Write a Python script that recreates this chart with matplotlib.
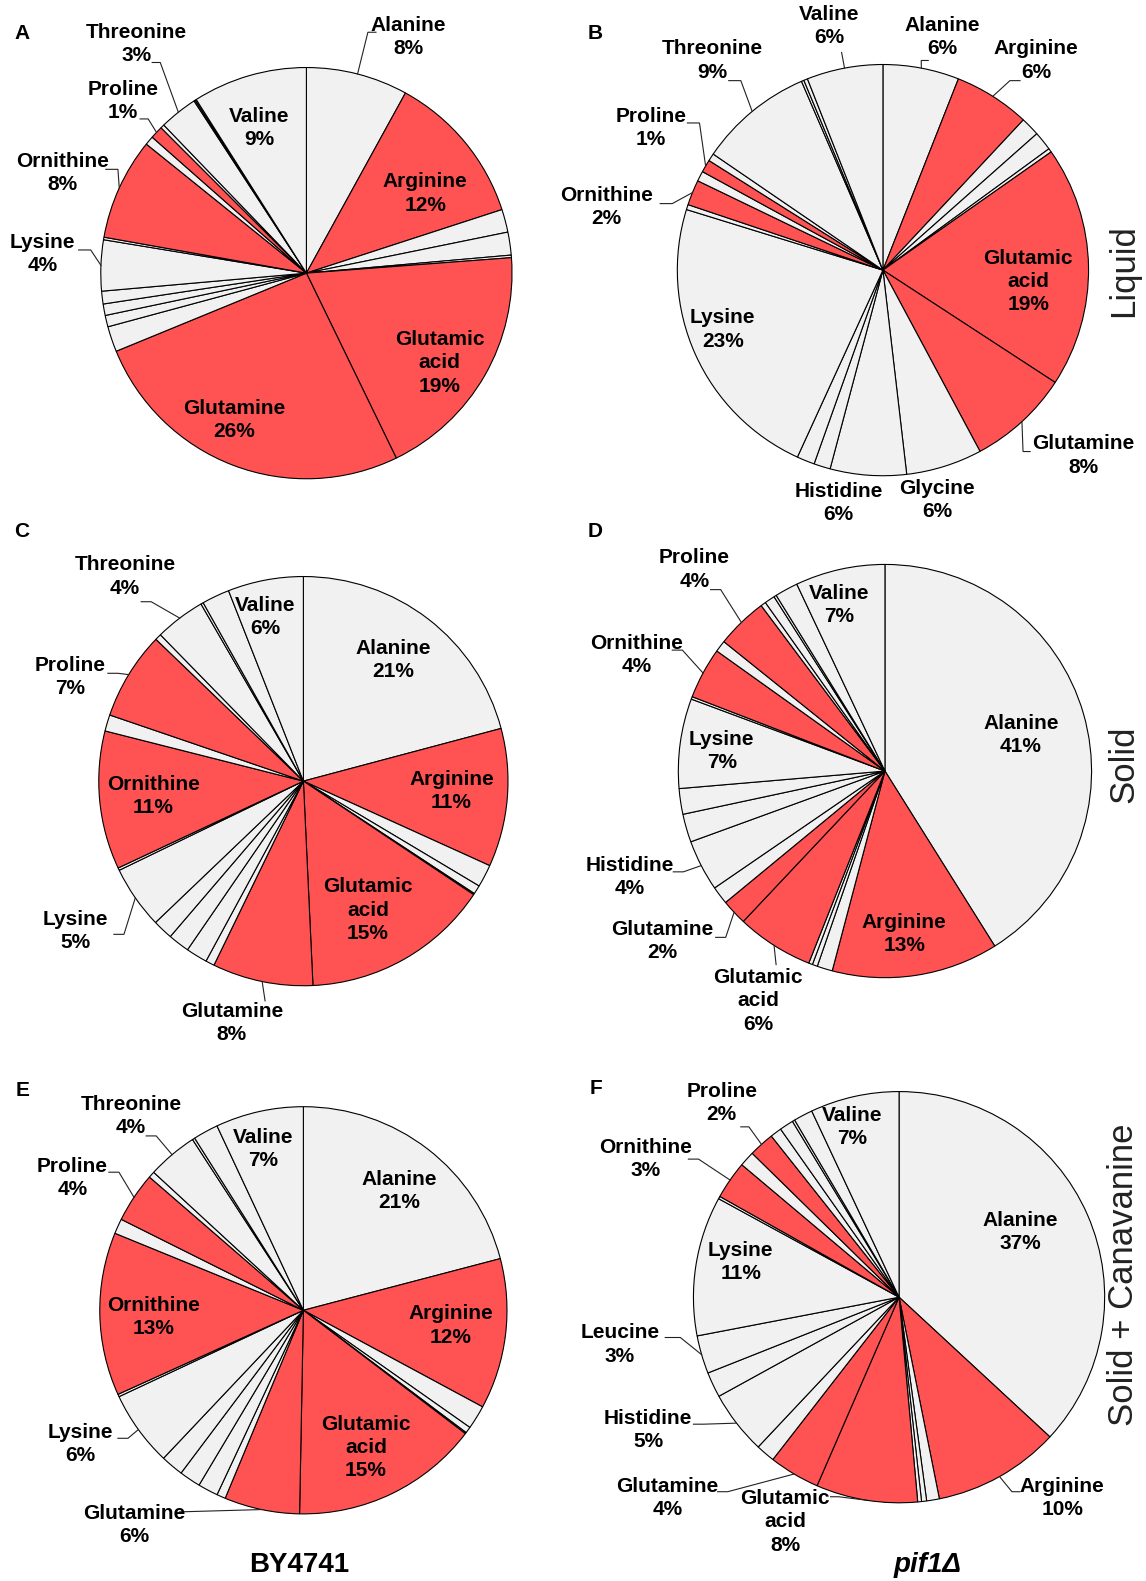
import numpy as np
import matplotlib
matplotlib.use("Agg")
import matplotlib.pyplot as plt

plt.rcParams['font.family'] = ['Liberation Sans', 'DejaVu Sans']

W, H = 1146, 1581
S = W / 1137.0   # layout below is in 1137-wide units

amino = ['Alanine', 'Arginine', 'Asparagine', 'Aspartic acid', 'Cysteine',
         'Glutamic acid', 'Glutamine', 'Glycine', 'Histidine', 'Isoleucine',
         'Leucine', 'Lysine', 'Methionine', 'Ornithine', 'Phenylalanine',
         'Proline', 'Serine', 'Threonine', 'Tryptophan', 'Tyrosine', 'Valine']
arg_pathway = ['Arginine', 'Glutamic acid', 'Glutamine', 'Ornithine', 'Proline']

# percent of total free amino acids
wt_liquid = [8, 12, 1.8, 1.8, 0.2, 19, 26, 2.0, 0.9, 0.9, 1.0, 4, 0.2, 8, 0.7, 1, 0.3, 3, 0.1, 0.1, 9]
pif_liquid = [6, 6, 1.5, 1.5, 0.3, 19, 8, 6, 6, 1.3, 1.4, 23, 0.4, 2, 0.8, 1, 0.6, 9, 0.2, 0.3, 6]
wt_solid = [21, 11, 1.8, 0.7, 0.1, 15, 8, 0.7, 1.7, 1.7, 1.6, 5, 0.2, 11, 1.3, 7, 0.5, 4, 0.2, 2.2, 6]
pif_solid = [41, 13, 1.2, 0.4, 0.3, 6, 2, 1.4, 4, 2.2, 2, 7, 0.2, 4, 0.9, 4, 0.4, 0.8, 0.2, 1.8, 7]
wt_can = [21, 12, 1.9, 0.5, 0.1, 15, 6, 0.7, 1.6, 1.7, 1.8, 6, 0.2, 13, 1.2, 4, 0.5, 4, 0.2, 2.0, 7]
pif_can = [37, 10, 1.0, 0.4, 0.3, 8, 4, 1.5, 5, 2.0, 3, 11, 0.2, 3, 1.2, 2, 0.9, 1.1, 0.2, 1.5, 7]

RED = '#ff5252'
GREY = '#f1f1f1'


def P(x, y):
    return x * S, H - y * S


def label_text(name, v):
    if name == 'Glutamic acid':
        return 'Glutamic\nacid\n%d%%' % round(v)
    return '%s\n%d%%' % (name, round(v))


# (amino acid, label x, label y, leader tail or None, horizontal stub)
panels = [
    ('A', (22, 33), (304, 271, 204), wt_liquid, [
        ('Alanine', 405, 37, (373, 32), -8),
        ('Arginine', 422, 192, None, 0),
        ('Glutamic acid', 436, 360, None, 0),
        ('Glutamine', 232, 417, None, 0),
        ('Lysine', 42, 252, (78, 248), 12),
        ('Ornithine', 62, 172, (105, 168), 12),
        ('Proline', 122, 100, (139, 118), 8),
        ('Threonine', 135, 44, (151, 62), 8),
        ('Valine', 257, 127, None, 0)]),
    ('B', (591, 33), (876, 268, 204), pif_liquid, [
        ('Valine', 823, 26, (835, 52), 0),
        ('Alanine', 935, 37, (921, 60), -7),
        ('Arginine', 1028, 60, (1012, 80), -10),
        ('Glutamic acid', 1020, 279, None, 0),
        ('Glutamine', 1075, 452, (1022, 448), -7),
        ('Glycine', 930, 496, None, 0),
        ('Histidine', 832, 499, None, 0),
        ('Lysine', 717, 327, None, 0),
        ('Ornithine', 602, 205, (655, 202), 12),
        ('Proline', 646, 127, (682, 122), 12),
        ('Threonine', 707, 60, (723, 80), 12)]),
    ('C', (22, 527), (301, 775, 203), wt_solid, [
        ('Alanine', 390, 655, None, 0),
        ('Arginine', 448, 785, None, 0),
        ('Glutamic acid', 365, 903, None, 0),
        ('Glutamine', 230, 1015, (263, 993), 0),
        ('Lysine', 75, 924, (113, 927), 10),
        ('Ornithine', 152, 790, None, 0),
        ('Proline', 70, 672, (107, 668), 10),
        ('Threonine', 124, 572, (140, 597), 10),
        ('Valine', 263, 612, None, 0)]),
    ('D', (590, 527), (878, 765, 205), pif_solid, [
        ('Alanine', 1013, 729, None, 0),
        ('Arginine', 897, 927, None, 0),
        ('Glutamic acid', 752, 993, (770, 957), 0),
        ('Glutamine', 657, 934, (710, 930), 10),
        ('Histidine', 625, 870, (668, 865), 10),
        ('Lysine', 716, 745, None, 0),
        ('Ornithine', 632, 650, (667, 645), 10),
        ('Proline', 689, 565, (705, 585), 10),
        ('Valine', 833, 600, None, 0)]),
    ('E', (22, 1082), (301, 1300, 202), wt_can, [
        ('Alanine', 396, 1182, None, 0),
        ('Arginine', 447, 1315, None, 0),
        ('Glutamic acid', 363, 1436, None, 0),
        ('Glutamine', 133, 1513, (178, 1500), 0),
        ('Lysine', 80, 1433, (117, 1427), 10),
        ('Ornithine', 152, 1307, None, 0),
        ('Proline', 72, 1169, (108, 1163), 10),
        ('Threonine', 130, 1107, (145, 1127), 10),
        ('Valine', 261, 1140, None, 0)]),
    ('F', (591, 1080), (892, 1287, 204), pif_can, [
        ('Alanine', 1012, 1222, None, 0),
        ('Arginine', 1054, 1486, (1012, 1480), -8),
        ('Glutamic acid', 779, 1510, (824, 1485), 8),
        ('Glutamine', 662, 1486, (712, 1480), 10),
        ('Histidine', 643, 1419, (688, 1413), 10),
        ('Leucine', 615, 1334, (660, 1327), 15),
        ('Lysine', 735, 1252, None, 0),
        ('Ornithine', 640, 1150, (683, 1150), 10),
        ('Proline', 716, 1094, (735, 1118), 8),
        ('Valine', 845, 1118, None, 0)]),
]

fig = plt.figure(figsize=(W / 100, H / 100), dpi=100)
ax = fig.add_axes([0, 0, 1, 1])

for letter, (lx, ly), (cx, cy, r), vals, labels in panels:
    cols = [RED if a in arg_pathway else GREY for a in amino]
    c = P(cx, cy)
    wedges, _ = ax.pie(vals, colors=cols, startangle=90, counterclock=False,
                       center=c, radius=r * S, frame=True,
                       wedgeprops=dict(edgecolor='black', linewidth=0.8))
    x, y = P(lx, ly)
    ax.text(x, y, letter, fontsize=15, fontweight='bold', ha='center', va='center')

    for name, tx, ty, tail, stub in labels:
        i = amino.index(name)
        x, y = P(tx, ty)
        ax.text(x, y, label_text(name, vals[i]), fontsize=15, fontweight='bold',
                ha='center', va='center', linespacing=1.28)
        if tail is None:
            continue
        w = wedges[i]
        mid = np.deg2rad((w.theta1 + w.theta2) / 2)
        ax_x = c[0] + r * S * np.cos(mid)
        ax_y = c[1] + r * S * np.sin(mid)
        x0, y0 = P(*tail)
        x1 = x0 + stub * S
        ax.plot([x0, x1, ax_x], [y0, y0, ax_y], color='#222222', lw=0.8,
                solid_joinstyle='miter')

# growth condition on the right, strain underneath
for txt, yy in [('Liquid', 268), ('Solid', 758), ('Solid + Canavanine', 1265)]:
    x, y = P(1115, yy)
    ax.text(x, y, txt, fontsize=25, rotation=90, ha='center', va='center', color='#222222')

x, y = P(297, 1553)
ax.text(x, y, 'BY4741', fontsize=20, fontweight='bold', ha='center', va='center')
x, y = P(920, 1553)
ax.text(x, y, 'pif1Δ', fontsize=20, fontweight='bold', style='italic', ha='center', va='center')

ax.set_xlim(0, W)
ax.set_ylim(0, H)
ax.axis('off')

fig.savefig('out.png', dpi=100)
